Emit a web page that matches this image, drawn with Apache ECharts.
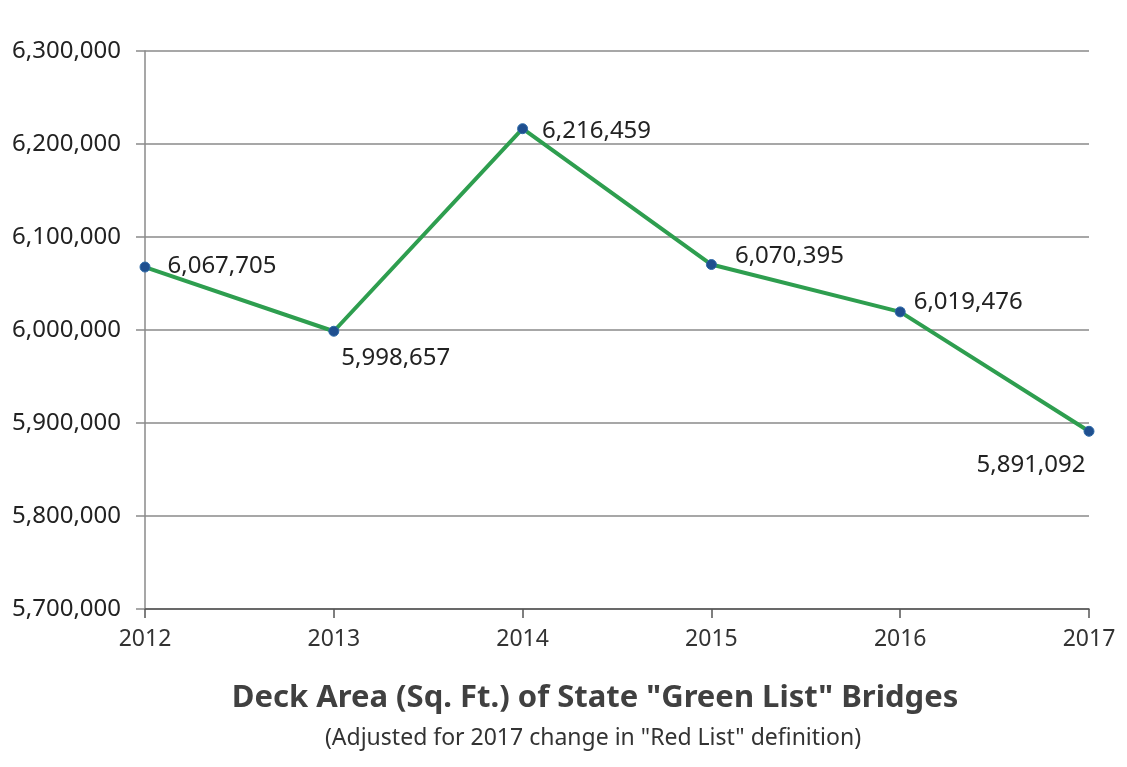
<!DOCTYPE html>
<html>
<head>
<meta charset="utf-8">
<script src="https://cdn.jsdelivr.net/npm/echarts@6/dist/echarts.min.js"></script>
<style>
  html, body { margin: 0; padding: 0; background: #fff; }
  #chart { width: 1127px; height: 767px; }
</style>
</head>
<body>
<div id="chart"></div>
<script>
const years = ['2012', '2013', '2014', '2015', '2016', '2017'];
const deckArea = [6067705, 5998657, 6216459, 6070395, 6019476, 5891092];

// where each value label sits relative to its point
const labelPlace = [
  { position: 'right', offset: [12, -1] },
  { position: 'bottom', offset: [62, 4] },
  { position: 'right', offset: [9, 2] },
  { position: 'right', offset: [13, -8] },
  { position: 'right', offset: [3, -10] },
  { position: 'bottom', offset: [-58, 11] }
];

const chart = echarts.init(document.getElementById('chart'));

const option = {
  animation: false,
  textStyle: { fontFamily: 'Noto Sans' },
  title: [
    {
      text: 'Deck Area (Sq. Ft.) of State "Green List" Bridges',
      left: 590, top: 678, textAlign: 'center',
      textStyle: { fontSize: 31, fontWeight: 'bold', color: '#404040', fontFamily: 'Noto Sans' }
    },
    {
      text: '(Adjusted for 2017 change in "Red List" definition)',
      left: 588, top: 722, textAlign: 'center',
      textStyle: { fontSize: 23, fontWeight: 'normal', color: '#333', fontFamily: 'Noto Sans' }
    }
  ],
  grid: { left: 145, right: 38, top: 51, bottom: 158 },
  xAxis: {
    type: 'category',
    data: years,
    boundaryGap: false,
    axisLine: { lineStyle: { color: '#555', width: 1.5 } },
    axisTick: { show: true, length: 9, lineStyle: { color: '#555', width: 1.5 } },
    axisLabel: { color: '#333', fontSize: 23, margin: 19 },
    splitLine: { show: false }
  },
  yAxis: {
    type: 'value',
    min: 5700000,
    max: 6300000,
    interval: 100000,
    axisLine: { show: true, lineStyle: { color: '#8a8a8a', width: 1.5 } },
    axisTick: { show: true, length: 9, lineStyle: { color: '#8a8a8a', width: 1.5 } },
    axisLabel: {
      color: '#222', fontSize: 24, margin: 24,
      formatter: v => v.toLocaleString('en-US')
    },
    splitLine: { lineStyle: { color: '#8a8a8a', width: 1.5 } }
  },
  series: [
    {
      type: 'line',
      data: deckArea.map((v, i) => ({ value: v, label: labelPlace[i] })),
      symbol: 'circle',
      symbolSize: 10,
      lineStyle: { color: '#2e9e4f', width: 4 },
      itemStyle: { color: '#1f4f8f', borderColor: '#2d6aa8', borderWidth: 1 },
      label: {
        show: true,
        color: '#222',
        fontSize: 24,
        formatter: p => p.value.toLocaleString('en-US')
      }
    }
  ]
};

chart.setOption(option);
</script>
</body>
</html>
